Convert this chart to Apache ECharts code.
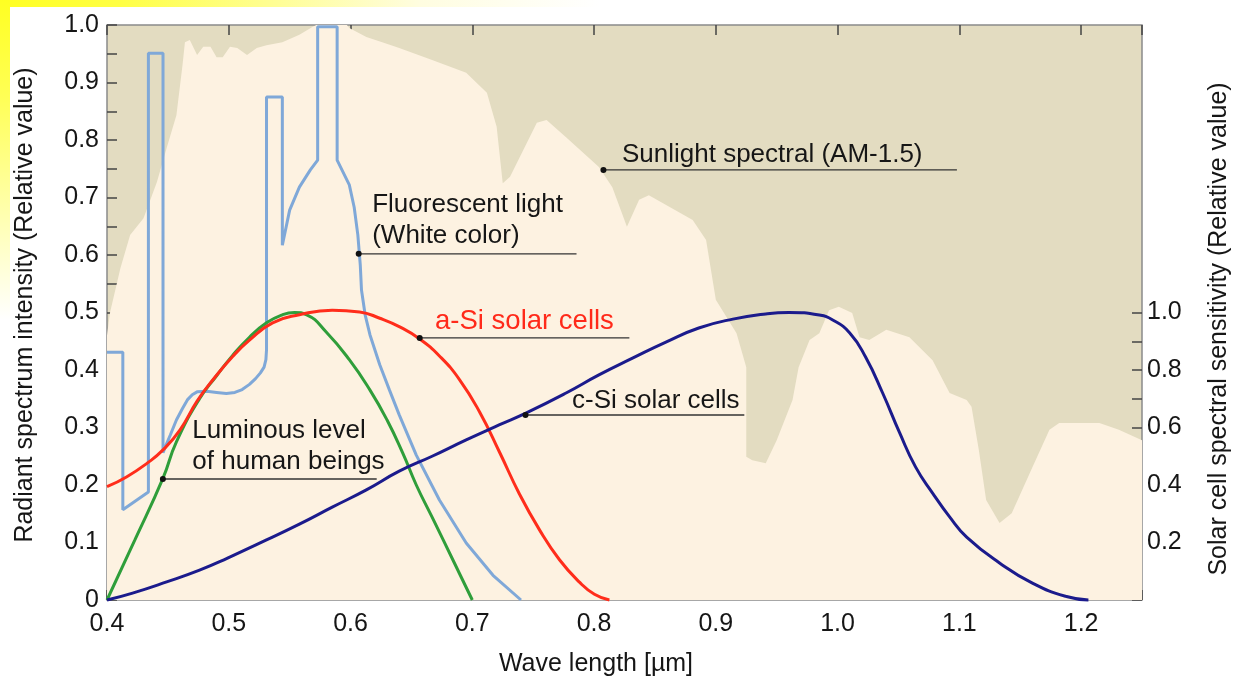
<!DOCTYPE html>
<html><head><meta charset="utf-8">
<script src="https://cdn.jsdelivr.net/npm/echarts@6.0.0/dist/echarts.min.js"></script>
<style>html,body{margin:0;padding:0;background:#fff;}#c{width:1233px;height:682px;}</style>
</head><body><div id="c"></div>
<script>
// ---- data (wavelength in µm, relative values) ----
const sunlight = [[0.4,0.46],[0.4025,0.50],[0.411,0.577],[0.419,0.635],[0.43,0.664],[0.441,0.727],[0.449,0.786],[0.457,0.843],[0.462,0.93],[0.464,0.97],[0.468,0.974],[0.474,0.948],[0.479,0.962],[0.485,0.962],[0.49,0.944],[0.495,0.944],[0.501,0.962],[0.507,0.96],[0.515,0.948],[0.523,0.96],[0.531,0.965],[0.544,0.97],[0.558,0.983],[0.569,0.997],[0.572,1.0],[0.597,1.0],[0.599,0.995],[0.613,0.979],[0.626,0.97],[0.64,0.96],[0.667,0.939],[0.695,0.917],[0.712,0.882],[0.72,0.823],[0.725,0.725],[0.731,0.736],[0.753,0.83],[0.761,0.835],[0.777,0.805],[0.804,0.753],[0.815,0.718],[0.827,0.649],[0.837,0.696],[0.845,0.704],[0.881,0.661],[0.892,0.626],[0.9,0.522],[0.917,0.464],[0.925,0.405],[0.925,0.249],[0.93,0.243],[0.941,0.238],[0.95,0.278],[0.963,0.348],[0.968,0.405],[0.977,0.452],[0.985,0.464],[0.993,0.504],[1.001,0.51],[1.012,0.499],[1.018,0.457],[1.026,0.452],[1.04,0.47],[1.059,0.457],[1.078,0.417],[1.092,0.36],[1.106,0.348],[1.11,0.336],[1.116,0.261],[1.122,0.174],[1.133,0.134],[1.143,0.151],[1.16,0.231],[1.174,0.296],[1.182,0.308],[1.215,0.308],[1.231,0.296],[1.25,0.278]];

const fluorescent = [[0.4,0.431],[0.413,0.431],[0.413,0.157],[0.434,0.188],[0.434,0.951],[0.446,0.951],[0.446,0.256],[0.449,0.272],[0.452,0.287],[0.457,0.313],[0.462,0.333],[0.466,0.348],[0.47,0.357],[0.474,0.362],[0.482,0.363],[0.49,0.361],[0.498,0.359],[0.505,0.361],[0.511,0.366],[0.517,0.375],[0.522,0.385],[0.526,0.395],[0.529,0.405],[0.5305,0.418],[0.531,0.435],[0.531,0.875],[0.544,0.875],[0.544,0.617],[0.550,0.678],[0.558,0.718],[0.567,0.748],[0.573,0.765],[0.573,0.997],[0.589,0.997],[0.589,0.765],[0.599,0.722],[0.603,0.683],[0.606,0.635],[0.608,0.583],[0.609,0.539],[0.612,0.496],[0.616,0.461],[0.624,0.409],[0.632,0.365],[0.640,0.322],[0.654,0.252],[0.673,0.174],[0.695,0.099],[0.717,0.043],[0.740,0.0]];

const luminous = [[0.4,0],[0.423,0.105],[0.446,0.212],[0.457,0.275],[0.476,0.35],[0.49,0.39],[0.503,0.425],[0.517,0.457],[0.531,0.482],[0.544,0.496],[0.554,0.5],[0.564,0.496],[0.58,0.466],[0.599,0.418],[0.616,0.365],[0.63,0.313],[0.643,0.255],[0.654,0.2],[0.667,0.144],[0.684,0.07],[0.7,0]];

const aSi = [[0.4,0.197],[0.416,0.214],[0.433,0.238],[0.446,0.261],[0.46,0.296],[0.474,0.346],[0.487,0.383],[0.503,0.423],[0.517,0.452],[0.536,0.482],[0.558,0.496],[0.585,0.504],[0.6075,0.501],[0.624,0.49],[0.6404,0.475],[0.6568,0.454],[0.6732,0.424],[0.6896,0.383],[0.706,0.327],[0.7224,0.257],[0.7388,0.184],[0.7552,0.122],[0.7716,0.07],[0.788,0.031],[0.8003,0.01],[0.8126,0]];

// c-Si: right-axis (solar cell spectral sensitivity) values
const cSi = [[0.4,0],[0.421,0.024],[0.449,0.063],[0.476,0.104],[0.499,0.146],[0.531,0.209],[0.558,0.264],[0.585,0.323],[0.613,0.383],[0.64,0.448],[0.667,0.5],[0.695,0.557],[0.722,0.609],[0.744,0.65],[0.777,0.72],[0.804,0.783],[0.832,0.842],[0.859,0.897],[0.886,0.946],[0.914,0.977],[0.941,0.995],[0.96,1.0],[0.985,0.991],[0.996,0.974],[1.01,0.929],[1.023,0.845],[1.037,0.72],[1.051,0.581],[1.064,0.463],[1.078,0.372],[1.092,0.289],[1.106,0.219],[1.133,0.129],[1.16,0.059],[1.188,0.012],[1.206,0]];

// ---- tick labels ----
const xTickLabels = ['0.4','0.5','0.6','0.7','0.8','0.9','1.0','1.1','1.2'];
const leftTickLabels = ['0','0.1','0.2','0.3','0.4','0.5','0.6','0.7','0.8','0.9','1.0'];
const rightTickLabels = ['','','0.2','','0.4','','0.6','','0.8','','1.0'];

// ---- annotations (data coordinates) ----
const labelTexts = ['Sunlight spectral (AM-1.5)','Fluorescent light\n(White color)','a-Si solar cells','c-Si solar cells','Luminous level\nof human beings'];
const labelAnchors = [[0.8225,0.774],[0.6174,0.661],[0.669,0.485],[0.7815,0.346],[0.4697,0.268]];
const leaderStarts = [[0.8077,0.748],[0.6067,0.602],[0.6568,0.4557],[0.7437,0.3217],[0.4459,0.2104]];
const leaderEnds = [1.098,0.7856,0.829,0.9234,0.6215];

const FONT = '"Liberation Sans", Arial, Helvetica, sans-serif';
const TEXT = '#161616';
const chart = echarts.init(document.getElementById('c'), null, {renderer:'canvas'});

function xFmt(v){ const i = Math.round((v-0.4)*10); return (Math.abs(v-0.4-i*0.1)<1e-6 && i>=0 && i<xTickLabels.length) ? xTickLabels[i] : ''; }
function leftFmt(v){ const k = Math.round(v*20); return (k%2===0) ? (leftTickLabels[k/2]||'') : ''; }
function rightFmt(v){ const k = Math.round(v*10); return rightTickLabels[k]||''; }

const tickStyle = {inside:true, length:10, lineStyle:{color:'#444', width:1.5}};

const series = [
  {type:'line', name:'Sunlight', xAxisIndex:0, yAxisIndex:0, data:sunlight, symbol:'none', lineStyle:{width:0}, areaStyle:{color:'#fdf2e1', opacity:1, origin:'start'}, z:1},
  {type:'line', name:'Fluorescent', xAxisIndex:0, yAxisIndex:0, data:fluorescent, symbol:'none', lineStyle:{width:3, color:'#7fa8d8'}, z:3, clip:false},
  {type:'line', name:'Luminous', xAxisIndex:0, yAxisIndex:0, data:luminous, symbol:'none', smooth:0.5, lineStyle:{width:3, color:'#2f9e3a'}, z:4, clip:false},
  {type:'line', name:'a-Si', xAxisIndex:0, yAxisIndex:0, data:aSi, symbol:'none', smooth:0.5, lineStyle:{width:3, color:'#ff2d1b'}, z:5, clip:false},
  {type:'line', name:'c-Si', xAxisIndex:2, yAxisIndex:1, data:cSi, symbol:'none', smooth:0.5, lineStyle:{width:3, color:'#1b1b8c'}, z:6, clip:false}
];

leaderStarts.forEach((p,i)=>{
  series.push({type:'line', xAxisIndex:0, yAxisIndex:0, z:8, silent:true, clip:false,
    data:[{value:p, symbol:'circle', symbolSize:6}, {value:[leaderEnds[i], p[1]], symbol:'none'}],
    lineStyle:{color:'#333', width:1.3}, itemStyle:{color:'#111'}, showSymbol:true});
});

series.push({type:'scatter', xAxisIndex:0, yAxisIndex:0, z:9, silent:true, symbolSize:1, itemStyle:{color:'rgba(0,0,0,0)'},
  data: labelAnchors.map((p,i)=>({value:p, label:{
    show:true, position:'right', distance:0, formatter:labelTexts[i], opacity:1,
    fontFamily:FONT, fontSize: i===2 ? 27.5 : 26, lineHeight:31, align:'left',
    color: i===2 ? '#ff2a1a' : TEXT}}))});

const option = {
  animation:false,
  backgroundColor:'#ffffff',
  grid:[
    {left:107, right:91, top:25, bottom:82, show:true, backgroundColor:'#e3dcc1', borderColor:'#8a8a8a', borderWidth:1.5, z:0},
    {left:107, right:91, top:312.5, bottom:82, show:false}
  ],
  xAxis:[
    {type:'value', gridIndex:0, min:0.4, max:1.25, interval:0.1, position:'bottom',
     axisLine:{show:false}, splitLine:{show:false}, axisTick:tickStyle,
     axisLabel:{formatter:xFmt, margin:12, fontFamily:FONT, fontSize:25, color:TEXT}},
    {type:'value', gridIndex:0, min:0.4, max:1.25, interval:0.1, position:'top',
     axisLine:{show:false}, splitLine:{show:false}, axisTick:tickStyle, axisLabel:{show:false}},
    {type:'value', gridIndex:1, min:0.4, max:1.25, interval:0.1, show:false}
  ],
  yAxis:[
    {type:'value', gridIndex:0, min:0, max:1.0, interval:0.05, position:'left',
     axisLine:{show:false}, splitLine:{show:false}, axisTick:tickStyle,
     axisLabel:{formatter:leftFmt, margin:8, fontFamily:FONT, fontSize:25, color:TEXT, showMaxLabel:true, showMinLabel:true}},
    {type:'value', gridIndex:1, min:0, max:1.0, interval:0.1, position:'right',
     axisLine:{show:false}, splitLine:{show:false}, axisTick:tickStyle,
     axisLabel:{formatter:rightFmt, margin:5, fontFamily:FONT, fontSize:25, color:TEXT, showMaxLabel:true}}
  ],
  graphic:[
    {type:'rect', left:0, top:0, z:-10, shape:{width:600, height:7},
     style:{fill:new echarts.graphic.LinearGradient(0,0,1,0,[{offset:0,color:'#ffff22'},{offset:0.2,color:'#ffff44'},{offset:0.7,color:'#fffde0'},{offset:1,color:'#ffffff'}])}},
    {type:'rect', left:0, top:0, z:-10, shape:{width:10, height:320},
     style:{fill:new echarts.graphic.LinearGradient(0,0,0,1,[{offset:0,color:'#ffff22'},{offset:0.3,color:'#ffff55'},{offset:1,color:'#ffffff'}])}},
    {type:'text', x:25, y:305, rotation:Math.PI/2, z:10,
     style:{text:'Radiant spectrum intensity (Relative value)', font:'25px '+FONT, fill:TEXT, align:'center', verticalAlign:'middle'}},
    {type:'text', x:1219, y:329, rotation:Math.PI/2, z:10,
     style:{text:'Solar cell spectral sensitivity (Relative value)', font:'25px '+FONT, fill:TEXT, align:'center', verticalAlign:'middle'}},
    {type:'text', x:596, y:664, z:10,
     style:{text:'Wave length [µm]', font:'25px '+FONT, fill:TEXT, align:'center', verticalAlign:'middle'}}
  ],
  series: series
};
chart.setOption(option);
</script>
</body></html>
